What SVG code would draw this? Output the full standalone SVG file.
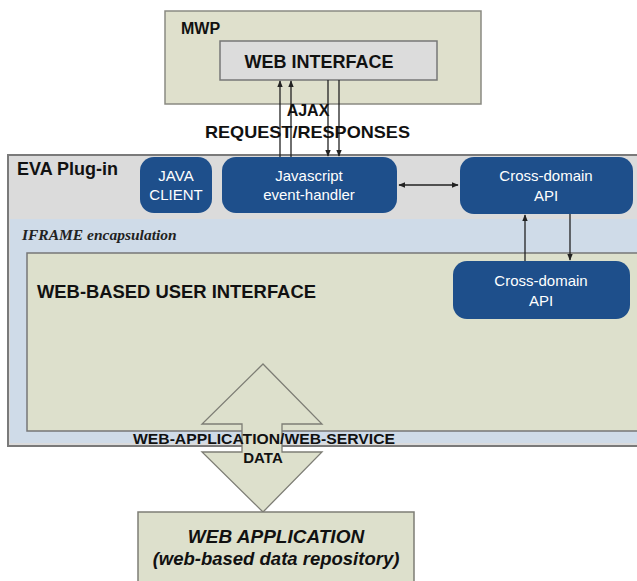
<svg xmlns="http://www.w3.org/2000/svg" width="637" height="581" viewBox="0 0 637 581">
  <style>
    .lbl { font-family: "Liberation Sans", Arial, sans-serif; font-weight: bold; fill: #111; }
    .node rect { fill: #1e4f8b; }
    .node text { font-family: "Liberation Sans", Arial, sans-serif; font-size: 15px; fill: #fff; text-anchor: middle; }
    .conn line { stroke: #222; stroke-width: 1.3; }
  </style>
  <defs>
    <marker id="ah" viewBox="0 0 10 10" refX="9" refY="5" markerWidth="7" markerHeight="7" orient="auto-start-reverse" markerUnits="userSpaceOnUse">
      <path d="M0,1 L10,5 L0,9 z" fill="#222"/>
    </marker>
  </defs>
  <rect width="637" height="581" fill="#fff"/>

  <!-- MWP container -->
  <g id="mwp">
    <rect x="165" y="11" width="316" height="93" fill="#dfe0cc" stroke="#8a8a82" stroke-width="1.5"/>
    <text class="lbl" x="181" y="34" font-size="16">MWP</text>
  </g>
  <g id="web-interface">
    <rect x="220" y="41" width="217" height="39" fill="#dcdcdc" stroke="#777" stroke-width="1.5"/>
    <text class="lbl" x="319" y="68" font-size="18" text-anchor="middle">WEB INTERFACE</text>
  </g>

  <!-- EVA plug-in container -->
  <g id="eva-plugin">
    <rect x="8" y="155" width="640" height="291" fill="#dbdbdb" stroke="#7a7a7a" stroke-width="2"/>
    <text class="lbl" x="17" y="175" font-size="18">EVA Plug-in</text>
  </g>

  <!-- IFRAME band -->
  <g id="iframe">
    <rect x="10" y="219" width="630" height="224" fill="#cfdbe8"/>
    <text x="22" y="240" font-family="'Liberation Serif', 'Times New Roman', serif" font-size="15.5" font-weight="bold" font-style="italic" fill="#222">IFRAME encapsulation</text>
  </g>

  <!-- Web-based user interface -->
  <g id="web-ui">
    <rect x="27" y="253" width="620" height="178" fill="#dde0cc" stroke="#777" stroke-width="1.5"/>
    <text class="lbl" x="37" y="298" font-size="18.4">WEB-BASED USER INTERFACE</text>
  </g>

  <!-- Blue nodes -->
  <g id="java-client" class="node">
    <rect x="140" y="157" width="72" height="56" rx="14"/>
    <text x="176" y="181">JAVA</text>
    <text x="176" y="200">CLIENT</text>
  </g>
  <g id="js-event-handler" class="node">
    <rect x="222" y="157" width="175" height="56" rx="14"/>
    <text x="309" y="181">Javascript</text>
    <text x="309" y="200">event-handler</text>
  </g>
  <g id="cross-domain-top" class="node">
    <rect x="460" y="157" width="173" height="57" rx="14"/>
    <text x="546" y="181">Cross-domain</text>
    <text x="546" y="201">API</text>
  </g>
  <g id="cross-domain-bottom" class="node">
    <rect x="453" y="261" width="177" height="58" rx="14"/>
    <text x="541" y="286">Cross-domain</text>
    <text x="541" y="306">API</text>
  </g>

  <!-- Data exchange double arrow -->
  <g id="data-arrow">
    <polygon points="263,364 322,424 282,424 282,452 322,452 263,512 202,452 242,452 242,424 202,424" fill="#dde0cc" stroke="#7d7d75" stroke-width="1.3"/>
  </g>

  <!-- Web application -->
  <g id="web-application">
    <rect x="138" y="512" width="276" height="80" fill="#dde0cc" stroke="#7d7d75" stroke-width="1.5"/>
    <text class="lbl" x="276" y="543" font-size="19" font-style="italic" text-anchor="middle">WEB APPLICATION</text>
    <text class="lbl" x="276" y="565" font-size="18.5" font-style="italic" text-anchor="middle">(web-based data repository)</text>
  </g>

  <!-- Connectors -->
  <g id="connectors" class="conn">
    <line x1="280" y1="157" x2="280" y2="81" marker-end="url(#ah)"/>
    <line x1="291" y1="157" x2="291" y2="81" marker-end="url(#ah)"/>
    <line x1="328" y1="80" x2="328" y2="156" marker-end="url(#ah)"/>
    <line x1="339" y1="80" x2="339" y2="156" marker-end="url(#ah)"/>
    <line x1="399" y1="185" x2="458" y2="185" marker-start="url(#ah)" marker-end="url(#ah)"/>
    <line x1="525" y1="261" x2="525" y2="215" marker-end="url(#ah)" stroke-width="1.6"/>
    <line x1="570" y1="214" x2="570" y2="260" marker-end="url(#ah)" stroke-width="1.6"/>
  </g>

  <!-- Connector labels -->
  <g id="labels">
    <text class="lbl" x="308" y="116" font-size="16" text-anchor="middle">AJAX</text>
    <text class="lbl" x="205" y="138" font-size="17" textLength="205" lengthAdjust="spacingAndGlyphs">REQUEST/RESPONSES</text>
    <text class="lbl" x="133" y="444" font-size="15" textLength="262" lengthAdjust="spacingAndGlyphs">WEB-APPLICATION/WEB-SERVICE</text>
    <text class="lbl" x="263" y="463" font-size="15" text-anchor="middle">DATA</text>
  </g>
</svg>
